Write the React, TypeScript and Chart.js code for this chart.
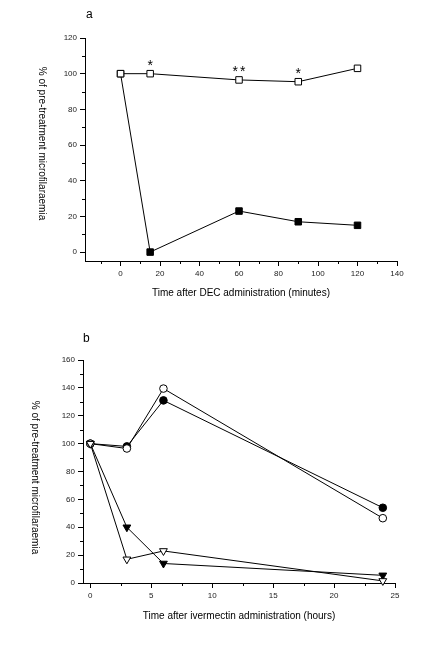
import React, { useEffect, useRef } from "react";
import { Chart, registerables } from "chart.js";

Chart.register(...registerables);

// ---------- Panel a data ----------
const timesA = [0, 15, 60, 90, 120];
const controlA = [100, 100, 96.5, 95.5, 103];
const treatedA = [100, 0, 23, 17, 15];
const sigA = ["", "*", "**", "*", ""];
const xTicksA = [0, 20, 40, 60, 80, 100, 120, 140];
const xMinorA = [-10, 10, 30, 50, 70, 90, 110, 130];
const yTicksA = [0, 20, 40, 60, 80, 100, 120];
const yMinorA = [10, 30, 50, 70, 90, 110];

// ---------- Panel b data ----------
const timesB = [0, 3, 6, 24];
const filledCircleB = [100, 98, 131, 54];
const openCircleB = [100, 96.5, 139.5, 46.5];
const filledTriB = [100, 40, 14, 5.5];
const openTriB = [100, 17, 23, 1.5];
const xTicksB = [0, 5, 10, 15, 20, 25];
const xMinorB = [2.5, 7.5, 12.5, 17.5, 22.5];
const yTicksB = [0, 20, 40, 60, 80, 100, 120, 140, 160];
const yMinorB = [10, 30, 50, 70, 90, 110, 130, 150];

const FONT = "'Liberation Sans', Arial, sans-serif";
const Y_TITLE = "% of pre-treatment microfilaraemia";

const pts = (xs: number[], ys: number[]) => xs.map((x, i) => ({ x, y: ys[i] }));

const decorPlugin = {
  id: "decor",
  afterDraw(chart: any, _args: any, opts: any) {
    const ctx = chart.ctx;
    const ca = chart.chartArea;
    const xs = chart.scales.x;
    const ys = chart.scales.y;
    ctx.save();
    ctx.strokeStyle = "#000";
    ctx.lineWidth = 1;
    (opts.xMinor || []).forEach((v: number) => {
      const px = Math.round(xs.getPixelForValue(v)) + 0.5;
      ctx.beginPath();
      ctx.moveTo(px, ca.bottom);
      ctx.lineTo(px, ca.bottom + 3);
      ctx.stroke();
    });
    (opts.yMinor || []).forEach((v: number) => {
      const py = Math.round(ys.getPixelForValue(v)) + 0.5;
      ctx.beginPath();
      ctx.moveTo(ca.left, py);
      ctx.lineTo(ca.left - 3, py);
      ctx.stroke();
    });
    // significance marks
    if (opts.sig) {
      ctx.save();
      ctx.fillStyle = "#000";
      ctx.font = `14px ${FONT}`;
      ctx.textAlign = "center";
      ctx.textBaseline = "alphabetic";
      try {
        (ctx as any).letterSpacing = "2px";
      } catch (e) {}
      opts.sig.labels.forEach((s: string, i: number) => {
        if (!s) return;
        const px = xs.getPixelForValue(opts.sig.x[i]);
        const py = ys.getPixelForValue(opts.sig.y[i]);
        ctx.fillText(s, px + 1, py - 4);
      });
      ctx.restore();
    }
    // x title
    ctx.fillStyle = "#000";
    ctx.font = `10px ${FONT}`;
    ctx.textAlign = "center";
    ctx.textBaseline = "middle";
    ctx.fillText(opts.xTitle, (ca.left + ca.right) / 2 + opts.xTitleDx, ca.bottom + opts.xTitleDy);
    // y title, rotated clockwise
    ctx.save();
    ctx.translate(ca.left + opts.yTitleDx, (ca.top + ca.bottom) / 2 + opts.yTitleDy);
    ctx.rotate(Math.PI / 2);
    ctx.fillText(Y_TITLE, 0, 0);
    ctx.restore();
    // panel letter
    ctx.font = `12px ${FONT}`;
    ctx.textAlign = "left";
    ctx.fillText(opts.letter, ca.left + opts.letterDx, opts.letterY);
    ctx.restore();
  },
};

function makeScales(
  xMin: number,
  xMax: number,
  yMin: number,
  yMax: number,
  xTicks: number[],
  yTicks: number[],
  yWidth: number,
  xHeight: number
) {
  const grid = {
    display: true,
    drawOnChartArea: false,
    drawTicks: true,
    tickLength: 5,
    color: "#000",
    lineWidth: 1,
  };
  const border = { display: true, color: "#000", width: 1 };
  const tickFont = { family: FONT, size: 8 };
  return {
    x: {
      type: "linear",
      min: xMin,
      max: xMax,
      grid,
      border,
      ticks: { font: tickFont, color: "#222", padding: 3, maxRotation: 0, autoSkip: false },
      afterBuildTicks: (s: any) => {
        s.ticks = xTicks.map((v) => ({ value: v }));
      },
      afterFit: (s: any) => {
        s.height = xHeight;
      },
    },
    y: {
      type: "linear",
      min: yMin,
      max: yMax,
      grid,
      border,
      ticks: { font: tickFont, color: "#222", padding: 3, autoSkip: false },
      afterBuildTicks: (s: any) => {
        s.ticks = yTicks.map((v) => ({ value: v }));
      },
      afterFit: (s: any) => {
        s.width = yWidth;
      },
    },
  };
}

const lineBase = {
  borderColor: "#000",
  borderWidth: 1,
  tension: 0,
  clip: false,
  pointBorderColor: "#000",
  pointBorderWidth: 1,
};

function PanelA() {
  const ref = useRef<HTMLCanvasElement>(null);
  useEffect(() => {
    if (!ref.current) return;
    const chart = new Chart(ref.current, {
      type: "line",
      data: {
        datasets: [
          {
            ...lineBase,
            data: pts(timesA, controlA),
            pointStyle: "rect",
            pointRadius: 4.6,
            pointBackgroundColor: "#fff",
          },
          {
            ...lineBase,
            data: pts(timesA, treatedA),
            pointStyle: "rect",
            pointRadius: 4.6,
            pointBackgroundColor: "#000",
          },
        ],
      } as any,
      options: {
        responsive: false,
        animation: false,
        events: [],
        layout: { padding: { left: 0, right: 40, top: 38, bottom: 0 } },
        scales: makeScales(-18, 140, -5, 120, xTicksA, yTicksA, 85, 69) as any,
        plugins: {
          legend: { display: false },
          tooltip: { enabled: false },
          decor: {
            xMinor: xMinorA,
            yMinor: yMinorA,
            sig: { labels: sigA, x: timesA, y: controlA },
            xTitle: "Time after DEC administration (minutes)",
            xTitleDx: 0,
            xTitleDy: 32,
            yTitleDx: -43,
            yTitleDy: -6,
            letter: "a",
            letterDx: 1,
            letterY: 15,
          },
        } as any,
      },
      plugins: [decorPlugin as any],
    });
    return () => chart.destroy();
  }, []);
  return <canvas ref={ref} width={437} height={330} style={{ display: "block" }} />;
}

function PanelB() {
  const ref = useRef<HTMLCanvasElement>(null);
  useEffect(() => {
    if (!ref.current) return;
    const chart = new Chart(ref.current, {
      type: "line",
      data: {
        datasets: [
          {
            ...lineBase,
            data: pts(timesB, openTriB),
            pointStyle: "triangle",
            rotation: 180,
            pointRadius: 4.5,
            pointBackgroundColor: "#fff",
          },
          {
            ...lineBase,
            data: pts(timesB, filledTriB),
            pointStyle: "triangle",
            rotation: 180,
            pointRadius: 4.5,
            pointBackgroundColor: "#000",
          },
          {
            ...lineBase,
            data: pts(timesB, openCircleB),
            pointStyle: "circle",
            pointRadius: 3.8,
            pointBackgroundColor: "#fff",
          },
          {
            ...lineBase,
            data: pts(timesB, filledCircleB),
            pointStyle: "circle",
            pointRadius: 3.8,
            pointBackgroundColor: "#000",
          },
        ],
      } as any,
      options: {
        responsive: false,
        animation: false,
        events: [],
        layout: { padding: { left: 0, right: 42, top: 30, bottom: 0 } },
        scales: makeScales(-0.6, 25, 0, 160, xTicksB, yTicksB, 83, 82) as any,
        plugins: {
          legend: { display: false },
          tooltip: { enabled: false },
          decor: {
            xMinor: xMinorB,
            yMinor: yMinorB,
            xTitle: "Time after ivermectin administration (hours)",
            xTitleDx: 0,
            xTitleDy: 33,
            yTitleDx: -48,
            yTitleDy: 6,
            letter: "b",
            letterDx: 0,
            letterY: 9,
          },
        } as any,
      },
      plugins: [decorPlugin as any],
    });
    return () => chart.destroy();
  }, []);
  return <canvas ref={ref} width={437} height={335} style={{ display: "block" }} />;
}

export default function App() {
  return (
    <div
      style={{
        position: "absolute",
        left: 0,
        top: 0,
        width: 437,
        height: 665,
        background: "#fff",
      }}
    >
      <PanelA />
      <PanelB />
    </div>
  );
}
